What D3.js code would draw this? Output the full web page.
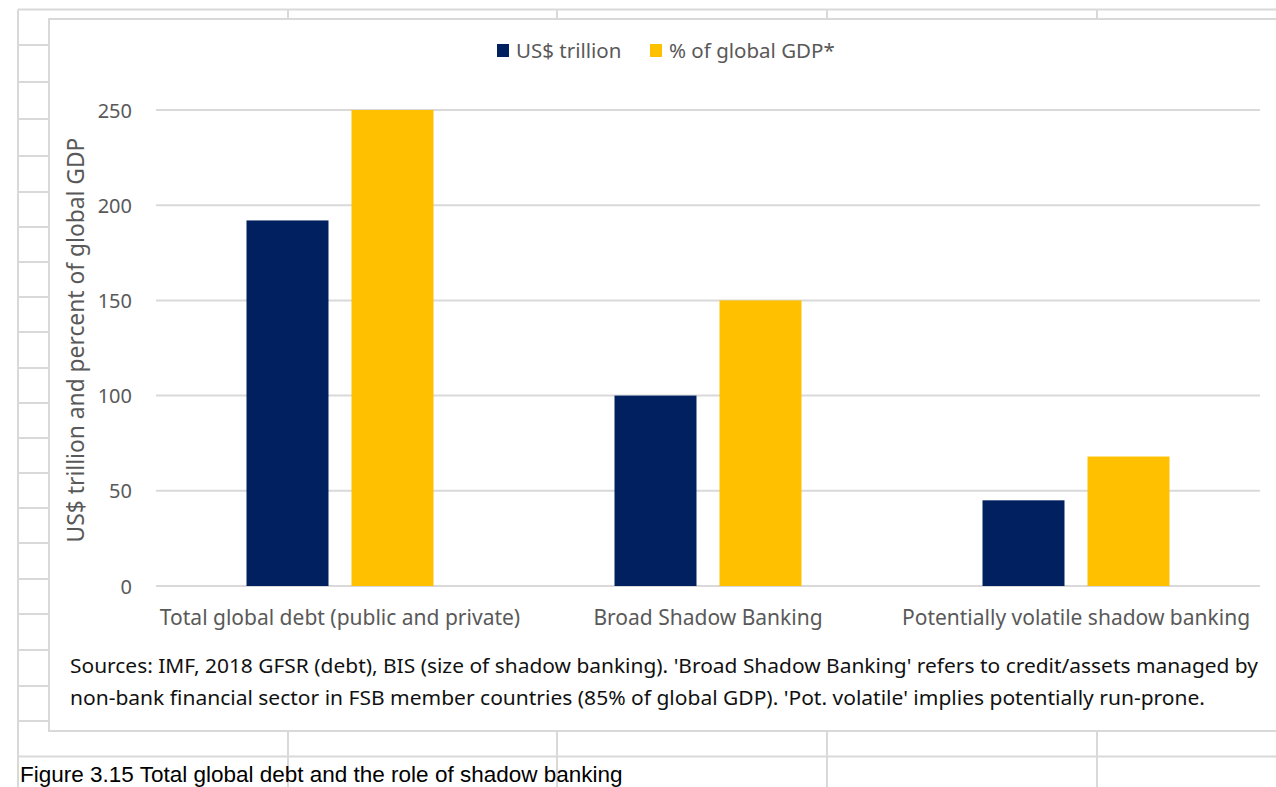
<!DOCTYPE html>
<html>
<head>
<meta charset="utf-8">
<script src="https://cdn.jsdelivr.net/npm/d3@7"></script>
<style>
  html, body { margin: 0; padding: 0; background: #fff; overflow: hidden; }
  svg { display: block; }
</style>
</head>
<body>
<svg id="chart" width="1276" height="787"></svg>
<script>
// Categories and series values
const categories = [
  "Total global debt (public and private)",
  "Broad Shadow Banking",
  "Potentially volatile shadow banking"
];
const seriesNames = ["US$ trillion", "% of global GDP*"];
const usdTrillion = [192, 100, 45];
const pctGlobalGdp = [250, 150, 68];
const yTicks = [0, 50, 100, 150, 200, 250];
const yAxisTitle = "US$ trillion and percent of global GDP";
const sourceLines = [
  "Sources: IMF, 2018 GFSR (debt), BIS (size of shadow banking). 'Broad Shadow Banking' refers to credit/assets managed by",
  "non-bank financial sector in FSB member countries (85% of global GDP). 'Pot. volatile' implies potentially run-prone."
];
const figureTitle = "Figure 3.15 Total global debt and the role of shadow banking";

const colors = ["#002060", "#FFC000"];
const gridColor = "#d9d9d9";
const labelColor = "#595959";
const chartFont = "'Noto Sans', 'Open Sans', sans-serif";

const svg = d3.select("#chart");
const W = 1276, H = 787;

// ---- worksheet cell grid behind the chart ----
const sheet = svg.append("g").attr("stroke", gridColor).attr("stroke-width", 2).attr("fill", "none");
const colX = [18, 288, 557, 827, 1097];
sheet.append("line").attr("x1", 18).attr("x2", W).attr("y1", 9.5).attr("y2", 9.5);
sheet.append("line").attr("x1", 18).attr("x2", 18).attr("y1", 9.5).attr("y2", H);
colX.slice(1).forEach(x => {
  sheet.append("line").attr("x1", x).attr("x2", x).attr("y1", 9.5).attr("y2", 19);
  sheet.append("line").attr("x1", x).attr("x2", x).attr("y1", 731).attr("y2", H);
});
const rowY = [45, 82, 119, 156, 192, 227, 262, 297, 332, 368, 403, 438, 473, 508, 543, 579, 614, 650, 686, 721];
rowY.forEach(y => {
  sheet.append("line").attr("x1", 18).attr("x2", 49).attr("y1", y).attr("y2", y);
});
sheet.append("line").attr("x1", 18).attr("x2", W).attr("y1", 756.5).attr("y2", 756.5);

// ---- chart frame ----
svg.append("rect")
  .attr("x", 49).attr("y", 19)
  .attr("width", W - 49 + 10).attr("height", 731 - 19)
  .attr("fill", "#fff").attr("stroke", gridColor).attr("stroke-width", 2);

// ---- scales ----
const plot = { left: 156, right: 1260, top: 110, bottom: 586 };
const x0 = d3.scaleBand().domain(categories).range([plot.left, plot.right]).paddingInner(0).paddingOuter(0);
const y = d3.scaleLinear().domain([0, 250]).range([plot.bottom, plot.top]);

const barW = 82, barGap = 23;
const x1 = d3.scaleOrdinal().domain(seriesNames).range([-(barGap / 2 + barW), barGap / 2]);

// gridlines
const grid = svg.append("g");
grid.selectAll("line").data(yTicks).join("line")
  .attr("x1", plot.left).attr("x2", plot.right)
  .attr("y1", d => y(d)).attr("y2", d => y(d))
  .attr("stroke", gridColor).attr("stroke-width", 2);

// y axis tick labels
const yAxis = d3.axisLeft(y).tickValues(yTicks).tickSize(0).tickPadding(0);
const yg = svg.append("g").attr("transform", "translate(132,0)").call(yAxis);
yg.select(".domain").remove();
yg.selectAll("text")
  .attr("font-family", chartFont).attr("font-size", 20).attr("fill", labelColor)
  .attr("dy", "0.35em");

// bars
const rows = categories.map((c, i) => ({ cat: c, values: [usdTrillion[i], pctGlobalGdp[i]] }));
const groups = svg.append("g").selectAll("g").data(rows).join("g")
  .attr("transform", d => `translate(${x0(d.cat) + x0.bandwidth() / 2},0)`);
groups.selectAll("rect").data(d => d.values.map((v, j) => ({ key: seriesNames[j], v, j })))
  .join("rect")
  .attr("x", d => x1(d.key))
  .attr("width", barW)
  .attr("y", d => y(d.v))
  .attr("height", d => y(0) - y(d.v))
  .attr("fill", d => colors[d.j]);

// x axis category labels
const xAxis = d3.axisBottom(x0).tickSize(0).tickPadding(0);
const xg = svg.append("g").attr("transform", "translate(0,625)").call(xAxis);
xg.select(".domain").remove();
xg.selectAll("text")
  .attr("font-family", chartFont).attr("font-size", 21).attr("fill", labelColor)
  .attr("dy", 0);

// y axis title
svg.append("text")
  .attr("transform", "translate(84,340) rotate(-90)")
  .attr("text-anchor", "middle")
  .attr("font-family", chartFont).attr("font-size", 22.8).attr("fill", labelColor)
  .text(yAxisTitle);

// legend
const legendItems = [
  { name: seriesNames[0], color: colors[0], x: 497 },
  { name: seriesNames[1], color: colors[1], x: 650 }
];
const lg = svg.append("g");
legendItems.forEach(it => {
  lg.append("rect").attr("x", it.x).attr("y", 44).attr("width", 12).attr("height", 13).attr("fill", it.color);
  lg.append("text").attr("x", it.x + 19).attr("y", 57.5)
    .attr("font-family", chartFont).attr("font-size", 20.5).attr("fill", labelColor)
    .text(it.name);
});

// source note, fitted to the note's line widths
const sourceWidths = [1188, 1135];
svg.append("g").selectAll("text").data(sourceLines).join("text")
  .attr("x", 70).attr("y", (d, i) => 673 + i * 32)
  .attr("font-family", chartFont).attr("font-size", 19.5).attr("fill", "#111")
  .attr("textLength", (d, i) => sourceWidths[i])
  .attr("lengthAdjust", "spacingAndGlyphs")
  .text(d => d);

// figure caption below the chart
svg.append("text")
  .attr("x", 20).attr("y", 782)
  .attr("font-family", "'Liberation Sans', Arial, sans-serif").attr("font-size", 22.5).attr("fill", "#000")
  .text(figureTitle);
</script>
</body>
</html>
